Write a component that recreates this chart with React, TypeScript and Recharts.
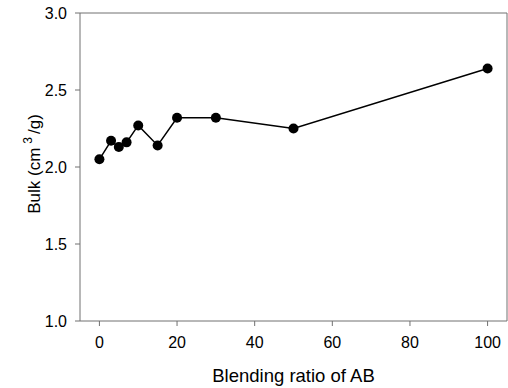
import React from "react";
import { LineChart, Line, XAxis, YAxis, ReferenceLine, Label } from "recharts";

const ratios = [0, 3, 5, 7, 10, 15, 20, 30, 50, 100];
const bulk = [2.05, 2.17, 2.13, 2.16, 2.27, 2.14, 2.32, 2.32, 2.25, 2.64];
const xTicks = [0, 20, 40, 60, 80, 100];
const yTicks = [1.0, 1.5, 2.0, 2.5, 3.0];

const data = ratios.map((r, i) => ({ ratio: r, bulk: bulk[i] }));

const AXIS = "#707070";
const FONT = "'Liberation Sans', Arial, sans-serif";

function YTitle({ viewBox }: any) {
  // baseline of the rotated title sits at x = 40
  const bx = 40;
  const cy = viewBox.y + viewBox.height / 2 - 3;
  return (
    <text
      x={bx}
      y={cy}
      transform={`rotate(-90, ${bx}, ${cy})`}
      textAnchor="middle"
      fontFamily={FONT}
      fontSize={17}
      fill="#000"
    >
      Bulk (cm
      <tspan dx={4} dy={-8} fontSize={12}>3</tspan>
      <tspan dx={3} dy={8}>/g)</tspan>
    </text>
  );
}

export default function App() {
  return (
    <div style={{ position: "absolute", left: 0, top: 0, background: "#fff" }}>
      <LineChart
        width={508}
        height={388}
        data={data}
        margin={{ top: 13, right: 1, bottom: 27, left: 0 }}
      >
        <XAxis
          dataKey="ratio"
          type="number"
          domain={[-5, 105]}
          ticks={xTicks}
          stroke={AXIS}
          tickSize={5}
          tickMargin={11}
          height={40}
          tick={{ fill: "#000", fontSize: 16, fontFamily: FONT }}
          allowDataOverflow
        >
          <Label
            value="Blending ratio of AB"
            position="insideBottom"
            offset={-21}
            fill="#000"
            fontSize={18.5}
            fontFamily={FONT}
          />
        </XAxis>
        <YAxis
          type="number"
          domain={[1, 3]}
          ticks={yTicks}
          width={80}
          stroke={AXIS}
          tickSize={5}
          tickMargin={8}
          tickFormatter={(v: number) => v.toFixed(1)}
          tick={{ fill: "#000", fontSize: 16, fontFamily: FONT }}
          allowDataOverflow
        >
          <Label content={<YTitle />} />
        </YAxis>
        <ReferenceLine y={3} stroke={AXIS} />
        <ReferenceLine x={105} stroke={AXIS} />
        <Line
          dataKey="bulk"
          stroke="#000"
          strokeWidth={1.5}
          dot={{ r: 5, fill: "#000", stroke: "#000", strokeWidth: 0 }}
          activeDot={false}
          isAnimationActive={false}
        />
      </LineChart>
    </div>
  );
}
